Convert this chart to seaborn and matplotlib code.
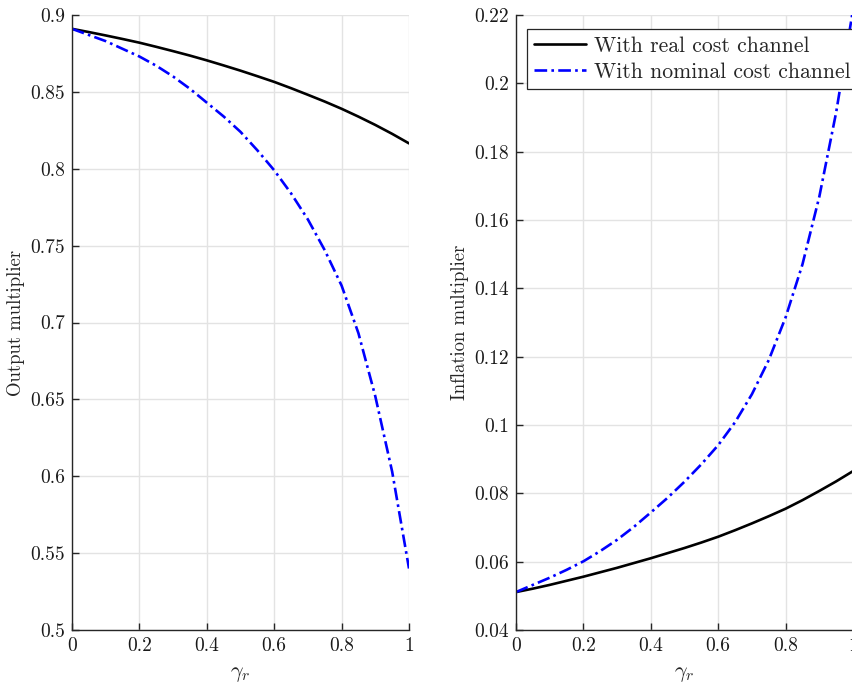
import matplotlib
matplotlib.use("Agg")
import matplotlib.pyplot as plt
import seaborn as sns
import pandas as pd

# Degree of real-rate pass-through into marginal cost
gamma_r = [0.00, 0.05, 0.10, 0.15, 0.20, 0.25, 0.30, 0.35, 0.40, 0.45, 0.50,
           0.55, 0.60, 0.65, 0.70, 0.75, 0.80, 0.85, 0.90, 0.95, 1.00]

# Output multiplier
output_real = [0.891, 0.8889, 0.8867, 0.8844, 0.882, 0.8793, 0.8765, 0.8736, 0.8705, 0.8672, 0.8638,
               0.8602, 0.8565, 0.8524, 0.8481, 0.8437, 0.839, 0.8339, 0.8285, 0.8227, 0.8165]
output_nominal = [0.891, 0.887, 0.883, 0.878, 0.873, 0.867, 0.860, 0.852, 0.843, 0.834, 0.824,
                  0.812, 0.799, 0.784, 0.767, 0.747, 0.724, 0.693, 0.652, 0.603, 0.540]

# Inflation multiplier
infl_real = [0.0511, 0.0521, 0.0532, 0.0544, 0.0556, 0.0569, 0.0582, 0.0596, 0.0610, 0.0625, 0.0640,
             0.0656, 0.0673, 0.0692, 0.0712, 0.0733, 0.0755, 0.0780, 0.0807, 0.0835, 0.0865]
infl_nominal = [0.0511, 0.0532, 0.0553, 0.0576, 0.0601, 0.0631, 0.0664, 0.0702, 0.0744, 0.0787, 0.0834,
                0.0885, 0.0941, 0.1008, 0.1090, 0.1190, 0.1315, 0.1470, 0.1668, 0.1915, 0.2215]

series_labels = ["With real cost channel", "With nominal cost channel"]

x_ticks = [0, 0.2, 0.4, 0.6, 0.8, 1]
x_ticklabels = ["0", "0.2", "0.4", "0.6", "0.8", "1"]
y1_ticks = [0.5, 0.55, 0.6, 0.65, 0.7, 0.75, 0.8, 0.85, 0.9]
y1_ticklabels = ["0.5", "0.55", "0.6", "0.65", "0.7", "0.75", "0.8", "0.85", "0.9"]
y2_ticks = [0.04, 0.06, 0.08, 0.1, 0.12, 0.14, 0.16, 0.18, 0.2, 0.22]
y2_ticklabels = ["0.04", "0.06", "0.08", "0.1", "0.12", "0.14", "0.16", "0.18", "0.2", "0.22"]

sns.set_style("whitegrid")
plt.rcParams.update({
    "font.family": "serif",
    "font.serif": ["cmr10"],
    "mathtext.fontset": "cm",
    "axes.unicode_minus": False,
    "axes.formatter.use_mathtext": True,
    "font.size": 14,
})

W, H = 852, 685
fig = plt.figure(figsize=(W / 100, H / 100), dpi=100)
ax1 = fig.add_axes([72 / W, 55 / H, 337 / W, 615 / H])
ax2 = fig.add_axes([516 / W, 55 / H, 337 / W, 615 / H])

dashdot = (4.8, 1.6, 1.0, 1.6)


def draw(ax, real, nominal):
    df = pd.DataFrame({"g": gamma_r, "real": real, "nominal": nominal})
    sns.lineplot(data=df, x="g", y="real", ax=ax, color="black", linewidth=1.9,
                 label=series_labels[0])
    sns.lineplot(data=df, x="g", y="nominal", ax=ax, color=(0, 0, 1), linewidth=1.9,
                 dashes=False, label=series_labels[1])
    ax.lines[1].set_dashes(dashdot)
    ax.set_xlim(0, 1)
    ax.set_xticks(x_ticks)
    ax.set_xticklabels(x_ticklabels)
    ax.set_xlabel(r"$\gamma_r$", fontsize=16, labelpad=7)
    ax.grid(True, color="#e3e3e3", linewidth=1.0)
    ax.set_axisbelow(True)
    for side in ("top", "right"):
        ax.spines[side].set_visible(False)
    for side in ("left", "bottom"):
        ax.spines[side].set_color("#262626")
        ax.spines[side].set_linewidth(1.0)
    ax.tick_params(direction="in", length=5, width=1.0, color="#262626",
                   labelsize=14, pad=5, left=True, bottom=True)
    for lab in ax.get_xticklabels() + ax.get_yticklabels():
        lab.set_color("#1a1a1a")


draw(ax1, output_real, output_nominal)
ax1.set_ylim(0.5, 0.9)
ax1.set_yticks(y1_ticks)
ax1.set_yticklabels(y1_ticklabels)
ax1.set_ylabel("Output multiplier", fontsize=13.5, labelpad=4)
ax1.get_legend().remove()

draw(ax2, infl_real, infl_nominal)
ax2.set_ylim(0.04, 0.22)
ax2.set_yticks(y2_ticks)
ax2.set_yticklabels(y2_ticklabels)
ax2.set_ylabel("Inflation multiplier", fontsize=13.5, labelpad=4)
leg = ax2.legend(loc="upper left", bbox_to_anchor=(0.032, 0.978), fontsize=15.6,
                 frameon=True, fancybox=False, framealpha=1, edgecolor="#262626",
                 handlelength=2.4, borderpad=0.35, labelspacing=0.3, handletextpad=0.37,
                 borderaxespad=0)
leg.get_frame().set_linewidth(0.9)

fig.savefig("out.png", dpi=100)
